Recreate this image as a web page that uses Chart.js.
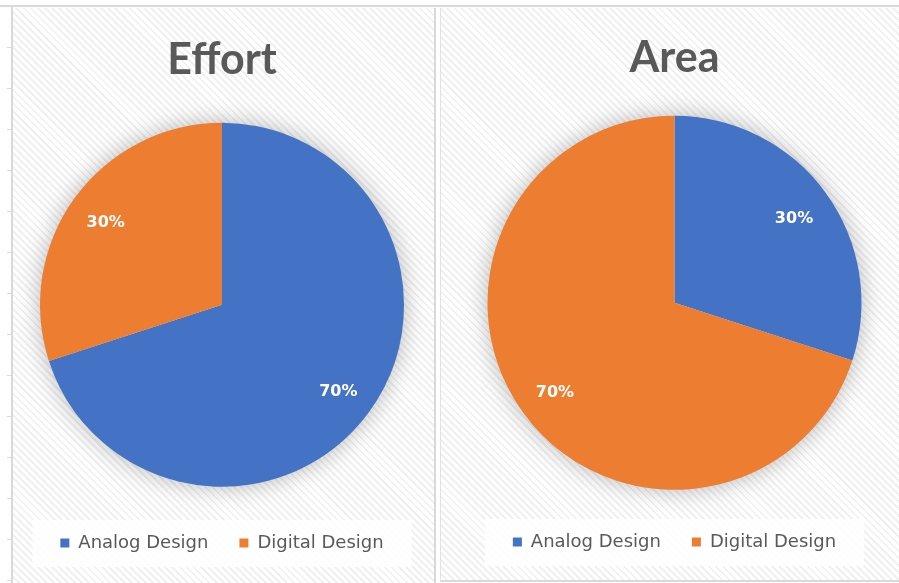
<!DOCTYPE html>
<html>
<head>
<meta charset="utf-8">
<script src="https://cdn.jsdelivr.net/npm/chart.js@4.4.1/dist/chart.umd.min.js"></script>
<style>
  body { margin: 0; width: 899px; height: 583px; background: #fff; position: relative; overflow: hidden; font-family: Lato, sans-serif; }
  .topline { position: absolute; left: 0; top: 5px; width: 899px; height: 2px; background: #d9d9d9; }
  .leftline { position: absolute; left: 11px; top: 6px; width: 2px; height: 577px; background: #d9d9d9; }
  .ticks-left { position: absolute; left: 7px; top: 7px; width: 5px; height: 576px;
    background: repeating-linear-gradient(180deg, transparent 0 40px, #d9d9d9 40px 41px); }
  .panel { position: absolute; top: 8px; box-sizing: border-box;
    background: repeating-linear-gradient(45deg, #ffffff 0 3px, #f0f0f0 3px 5px); }
  #p1 { left: 13px; width: 423px; height: 575px; border-right: 2px solid #d9d9d9; }
  #p2 { left: 440px; width: 459px; height: 574px; border-left: 1px solid #e2e2e2; border-bottom: 2px solid #d9d9d9; }
  .panel canvas { position: absolute; left: 0; top: 0; }
</style>
</head>
<body>
<div class="topline"></div>
<div class="ticks-left"></div>
<div class="leftline"></div>
<div class="panel" id="p1"><canvas id="chart1" width="421" height="575"></canvas></div>
<div class="panel" id="p2"><canvas id="chart2" width="458" height="572"></canvas></div>
<script>
const categories = ["Analog Design", "Digital Design"];
const effortValues = [70, 30];
const areaValues = [30, 70];
const sliceColors = ["#4472C4", "#ED7D31"];

// soft shadow behind the pie, like the office style
const pieShadow = {
    id: "pieShadow",
    beforeDatasetsDraw(chart) {
        const arc = chart.getDatasetMeta(0).data[0];
        if (!arc) return;
        const p = arc.getProps(["x", "y", "outerRadius"], true);
        const ctx = chart.ctx;
        ctx.save();
        ctx.shadowColor = "rgba(0,0,0,0.3)";
        ctx.shadowBlur = 24;
        ctx.beginPath();
        ctx.arc(p.x, p.y, p.outerRadius - 1, 0, Math.PI * 2);
        ctx.fillStyle = "#ddd";
        ctx.fill();
        ctx.restore();
    }
};

// percent labels inside the slices
const sliceLabels = {
    id: "sliceLabels",
    afterDatasetsDraw(chart) {
        const ctx = chart.ctx;
        const data = chart.data.datasets[0].data;
        const total = data.reduce((a, b) => a + b, 0);
        chart.getDatasetMeta(0).data.forEach((arc, i) => {
            const p = arc.getProps(["x", "y", "startAngle", "endAngle", "outerRadius"], true);
            const mid = (p.startAngle + p.endAngle) / 2;
            const r = p.outerRadius * 0.79;
            ctx.save();
            ctx.font = "bold 16px 'DejaVu Sans'";
            ctx.fillStyle = "#ffffff";
            ctx.textAlign = "center";
            ctx.textBaseline = "middle";
            ctx.fillText(Math.round(data[i] / total * 100) + "%", p.x + Math.cos(mid) * r, p.y + Math.sin(mid) * r + 3);
            ctx.restore();
        });
    }
};

// white box under the legend
const legendBox = {
    id: "legendBox",
    beforeDraw(chart) {
        const lg = chart.legend;
        if (!lg || !lg.legendHitBoxes.length) return;
        const boxes = lg.legendHitBoxes;
        const left = boxes[0].left - 28;
        const right = boxes[boxes.length - 1].left + boxes[boxes.length - 1].width + 28;
        const midY = boxes[0].top + boxes[0].height / 2;
        const ctx = chart.ctx;
        ctx.save();
        ctx.fillStyle = "rgba(255,255,255,0.85)";
        ctx.fillRect(left, midY - 23, right - left, 47);
        ctx.restore();
    }
};

function makePie(id, title, values, opts) {
    return new Chart(document.getElementById(id), {
        type: "pie",
        data: {
            labels: categories,
            datasets: [{
                data: values,
                backgroundColor: sliceColors,
                borderWidth: 0,
                radius: opts.radius
            }]
        },
        options: {
            responsive: false,
            animation: false,
            layout: { padding: opts.padding },
            plugins: {
                title: {
                    display: true,
                    text: title,
                    color: "#595959",
                    font: { family: "Lato", size: 43, weight: "bold" },
                    padding: opts.titlePadding
                },
                legend: {
                    position: "bottom",
                    labels: {
                        color: "#595959",
                        font: { family: "DejaVu Sans", size: 18 },
                        boxWidth: 9,
                        boxHeight: 9,
                        padding: 31
                    }
                },
                tooltip: { enabled: false }
            }
        },
        plugins: [legendBox, pieShadow, sliceLabels]
    });
}

makePie("chart1", "Effort", effortValues, {
    radius: 182,
    padding: { left: 0, right: 3, top: 0, bottom: 21 },
    titlePadding: { top: 26, bottom: 21 }
});
makePie("chart2", "Area", areaValues, {
    radius: 187,
    padding: { left: 9, right: 0, top: 0, bottom: 19 },
    titlePadding: { top: 24, bottom: 20 }
});
</script>
</body>
</html>
